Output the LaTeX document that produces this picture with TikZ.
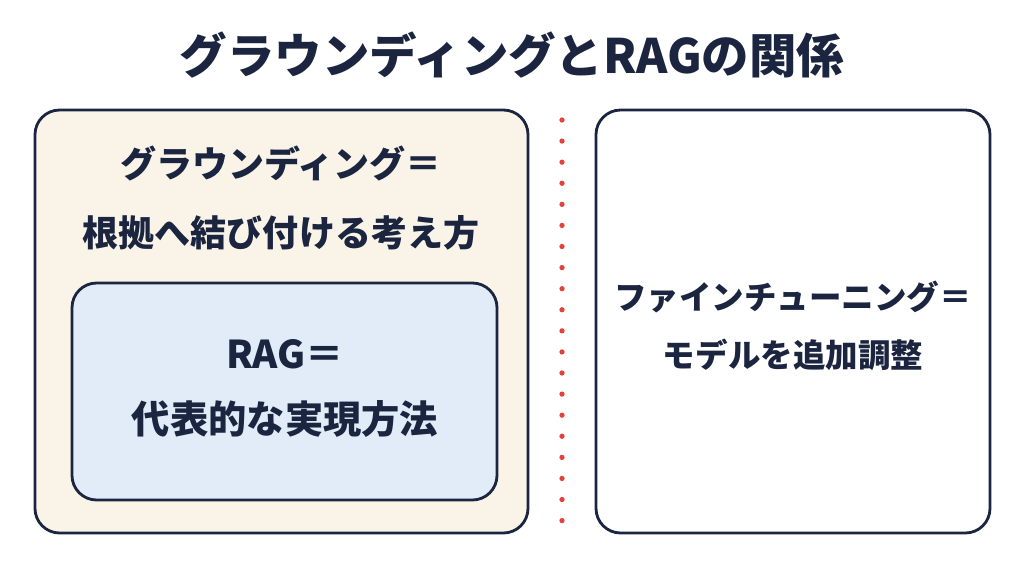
\documentclass[tikz,border=0pt]{standalone}
\usepackage{fontspec}
\newfontfamily\cjk{Noto Sans CJK JP}
\definecolor{navy}{HTML}{1B2540}
\definecolor{beige}{HTML}{FAF4E8}
\definecolor{paleblue}{HTML}{E1ECF8}
\definecolor{dotred}{HTML}{E5403A}
\tikzset{
  panel/.style={draw=navy, line width=1.6pt, rounded corners=14pt},
  label/.style={text=navy, font=\cjk\bfseries, align=center}
}
\begin{document}
\begin{tikzpicture}[x=0.02cm, y=-0.02cm]
    \useasboundingbox (0,0) rectangle (1024,576);
    \node[label, font=\cjk\bfseries\fontsize{27}{30}\selectfont] (title) at (512,55) {グラウンディングとRAGの関係};

% left panel
    \draw[panel, fill=beige] (35,110) rectangle (528,533);
    \node[label, font=\cjk\bfseries\fontsize{20.5}{39}\selectfont] (ground) at (281,198) {グラウンディング＝\\根拠へ結び付ける考え方};
    \draw[panel, fill=paleblue] (72,283) rectangle (497,500);
    \node[label, font=\cjk\bfseries\fontsize{21.8}{37}\selectfont] (rag) at (285,388) {RAG＝\\代表的な実現方法};

% divider
    \coordinate (top) at (562,120);
    \coordinate (bottom) at (562,530);
    \draw[dotred, line width=3pt, dash pattern=on 0pt off 12pt, line cap=round] (top) -- (bottom);

% right panel
    \draw[panel, fill=white] (596,110) rectangle (990,533);
    \node[label, font=\cjk\bfseries\fontsize{18.5}{33}\selectfont] (tune) at (793,326) {ファインチューニング＝\\モデルを追加調整};
\end{tikzpicture}
\end{document}
